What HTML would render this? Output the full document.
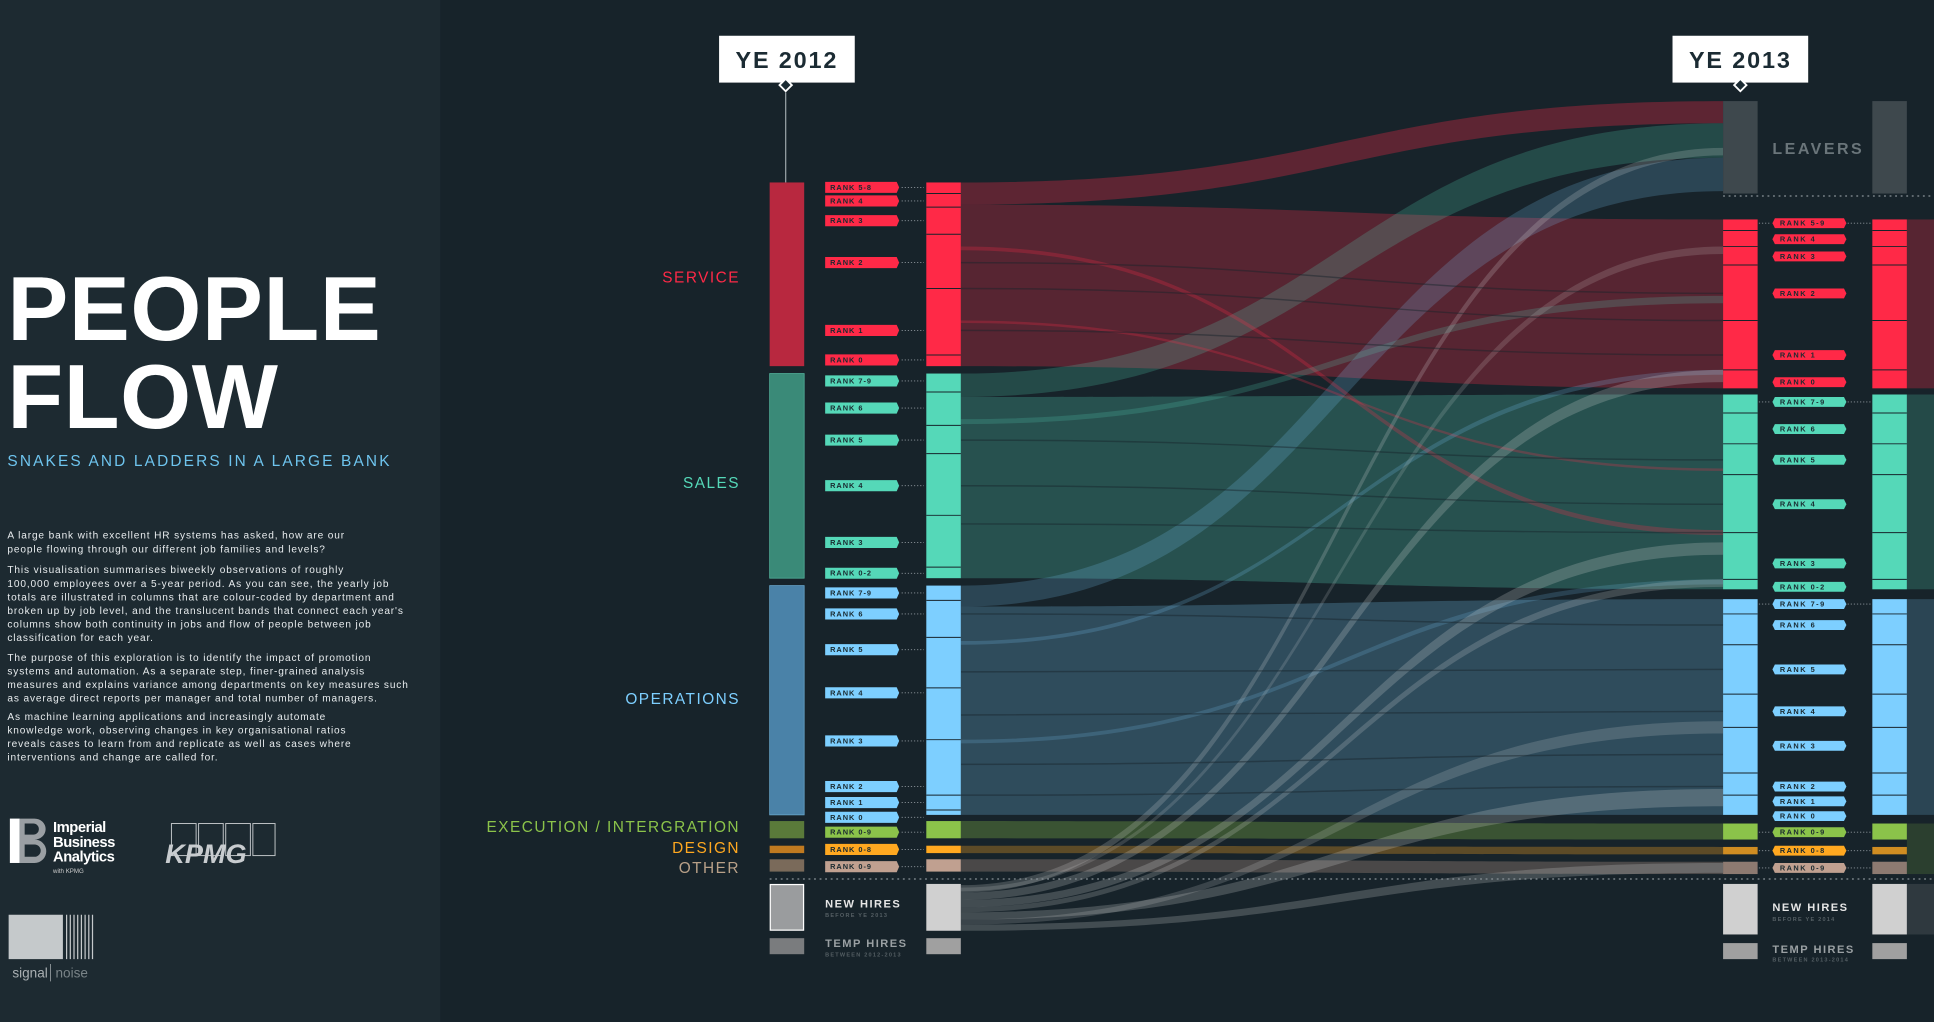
<!DOCTYPE html>
<html><head><meta charset="utf-8"><style>
html,body{margin:0;padding:0;background:#17232a;}
svg{display:block;}
text{font-family:"Liberation Sans","DejaVu Sans",sans-serif;}
</style></head><body>
<svg width="1934" height="1022" viewBox="0 0 1568 829" preserveAspectRatio="none" xmlns="http://www.w3.org/2000/svg">
<rect width="1568" height="829" fill="#17232a"/>
<rect width="357" height="829" fill="#1d2a31"/>

<!-- flows -->
<g>
<path d="M779 148 C1088 148 1088 82 1397 82 L1397 100 C1088 100 1088 166 779 166Z" fill="#ff2a48" opacity="0.3"/>
<path d="M779 166 C1088 166 1088 178 1397 178 L1397 315 C1088 315 1088 297 779 297Z" fill="#ff2a48" opacity="0.28"/>
<path d="M779 303 C1088 303 1088 100 1397 100 L1397 128 C1088 128 1088 322 779 322Z" fill="#55d8b8" opacity="0.22"/>
<path d="M779 322 C1088 322 1088 320 1397 320 L1397 478 C1088 478 1088 469 779 469Z" fill="#55d8b8" opacity="0.26"/>
<path d="M779 475 C1088 475 1088 128 1397 128 L1397 155 C1088 155 1088 492 779 492Z" fill="#7dcfff" opacity="0.2"/>
<path d="M779 492 C1088 492 1088 486 1397 486 L1397 661 C1088 661 1088 661 779 661Z" fill="#7dcfff" opacity="0.24"/>
<path d="M779 666 C1088 666 1088 668 1397 668 L1397 681 C1088 681 1088 680 779 680Z" fill="#8bc34a" opacity="0.3"/>
<path d="M779 686 C1088 686 1088 687 1397 687 L1397 693 C1088 693 1088 692 779 692Z" fill="#ffa820" opacity="0.3"/>
<path d="M779 697 C1088 697 1088 699 1397 699 L1397 709 C1088 709 1088 707 779 707Z" fill="#c0a090" opacity="0.3"/>
<path d="M779 200 C1088 200 1088 430 1397 430 L1397 434 C1088 434 1088 203 779 203Z" fill="#ff2a48" opacity="0.25"/>
<path d="M779 260 C1088 260 1088 380 1397 380 L1397 382 C1088 382 1088 262 779 262Z" fill="#ff2a48" opacity="0.25"/>
<path d="M779 340 C1088 340 1088 240 1397 240 L1397 246 C1088 246 1088 344 779 344Z" fill="#55d8b8" opacity="0.2"/>
<path d="M779 520 C1088 520 1088 300 1397 300 L1397 304 C1088 304 1088 523 779 523Z" fill="#7dcfff" opacity="0.2"/>
<path d="M779 600 C1088 600 1088 470 1397 470 L1397 474 C1088 474 1088 603 779 603Z" fill="#7dcfff" opacity="0.18"/>
<g fill="#e0e0e0">
<path d="M779 718 C1088 718 1088 120 1397 120 L1397 126 C1088 126 1088 724 779 724Z" opacity="0.2"/>
<path d="M779 724 C1088 724 1088 300 1397 300 L1397 310 C1088 310 1088 730 779 730Z" opacity="0.22"/>
<path d="M779 730 C1088 730 1088 440 1397 440 L1397 450 C1088 450 1088 736 779 736Z" opacity="0.22"/>
<path d="M779 736 C1088 736 1088 470 1397 470 L1397 476 C1088 476 1088 740 779 740Z" opacity="0.2"/>
<path d="M779 740 C1088 740 1088 640 1397 640 L1397 654 C1088 654 1088 746 779 746Z" opacity="0.22"/>
<path d="M779 746 C1088 746 1088 585 1397 585 L1397 595 C1088 595 1088 750 779 750Z" opacity="0.18"/>
<path d="M779 750 C1088 750 1088 700 1397 700 L1397 708 C1088 708 1088 755 779 755Z" opacity="0.22"/>
<path d="M779 720 C1088 720 1088 200 1397 200 L1397 206 C1088 206 1088 723 779 723Z" opacity="0.16"/>
</g>
<g stroke="#17232a" stroke-width="1.2" opacity="0.45" fill="none">
<path d="M779 213 C1088 213 1088 238 1397 238"/><path d="M779 234 C1088 234 1088 260 1397 260"/>
<path d="M779 268 C1088 268 1088 288 1397 288"/><path d="M779 357 C1088 357 1088 373 1397 373"/>
<path d="M779 394 C1088 394 1088 409 1397 409"/><path d="M779 425 C1088 425 1088 432 1397 432"/>
<path d="M779 498 C1088 498 1088 507 1397 507"/><path d="M779 545 C1088 545 1088 543 1397 543"/>
<path d="M779 580 C1088 580 1088 577 1397 577"/><path d="M779 620 C1088 620 1088 612 1397 612"/>
<path d="M779 645 C1088 645 1088 638 1397 638"/>
</g>
<rect x="1546" y="178" width="22" height="137" fill="#ff2a48" opacity="0.28"/>
<rect x="1546" y="320" width="22" height="158" fill="#55d8b8" opacity="0.22"/>
<rect x="1546" y="486" width="22" height="175" fill="#7dcfff" opacity="0.2"/>
<rect x="1546" y="668" width="22" height="41" fill="#8bc34a" opacity="0.18"/>
<rect x="1546" y="717" width="22" height="41" fill="#e0e0e0" opacity="0.12"/>
</g>

<line x1="624" y1="713" x2="1568" y2="713" stroke="#8a9399" stroke-width="1" stroke-dasharray="1.5 3"/>
<line x1="1397" y1="159" x2="1568" y2="159" stroke="#8a9399" stroke-width="1" stroke-dasharray="1.5 3"/>

<rect x="583" y="29" width="110" height="38" fill="#fff"/>
<text x="638" y="55" text-anchor="middle" font-size="19" font-weight="bold" fill="#1b2b33" letter-spacing="1.5">YE 2012</text>
<path d="M632 69 L637 64 L642 69 L637 74Z" fill="#1b2b33" stroke="#fff" stroke-width="1.5"/>
<line x1="637" y1="75" x2="637" y2="148" stroke="#9aa3a8" stroke-width="1"/>
<rect x="1356" y="29" width="110" height="38" fill="#fff"/>
<text x="1411" y="55" text-anchor="middle" font-size="19" font-weight="bold" fill="#1b2b33" letter-spacing="1.5">YE 2013</text>
<path d="M1406 69 L1411 64 L1416 69 L1411 74Z" fill="#1b2b33" stroke="#fff" stroke-width="1.5"/>

<rect x="624" y="148" width="28" height="149" fill="#b8283f"/>
<rect x="624" y="303" width="28" height="166" fill="#3a8a78" stroke="#55b8a0" stroke-width="0.6"/>
<rect x="624" y="475" width="28" height="186" fill="#4a82a8" stroke="#6aaad0" stroke-width="0.6"/>
<rect x="624" y="666" width="28" height="14" fill="#5a7a3a"/>
<rect x="624" y="686" width="28" height="6" fill="#c07a20"/>
<rect x="624" y="697" width="28" height="10" fill="#7a6a5a"/>
<rect x="624.5" y="717.5" width="27" height="37" fill="#9a9c9e" stroke="#fff" stroke-width="1"/>
<rect x="624" y="761" width="28" height="13" fill="#7a7c7e"/>

<rect x="751" y="148" width="28" height="149" fill="#ff2947"/>
<rect x="751" y="303" width="28" height="166" fill="#55d8b8"/>
<rect x="751" y="475" width="28" height="186" fill="#7dcfff"/>
<rect x="751" y="666" width="28" height="14" fill="#8bc34a"/>
<rect x="751" y="686" width="28" height="6" fill="#ffa820"/>
<rect x="751" y="697" width="28" height="10" fill="#c0a090"/>
<rect x="751" y="717" width="28" height="38" fill="#d0d0d0"/>
<rect x="751" y="761" width="28" height="13" fill="#a0a0a0"/>
<g stroke="#17232a" stroke-width="0.8">
<line x1="751" y1="157" x2="779" y2="157"/><line x1="751" y1="168" x2="779" y2="168"/><line x1="751" y1="190" x2="779" y2="190"/><line x1="751" y1="234" x2="779" y2="234"/><line x1="751" y1="288" x2="779" y2="288"/>
<line x1="751" y1="318" x2="779" y2="318"/><line x1="751" y1="345" x2="779" y2="345"/><line x1="751" y1="368" x2="779" y2="368"/><line x1="751" y1="418" x2="779" y2="418"/><line x1="751" y1="460" x2="779" y2="460"/>
<line x1="751" y1="487" x2="779" y2="487"/><line x1="751" y1="517" x2="779" y2="517"/><line x1="751" y1="558" x2="779" y2="558"/><line x1="751" y1="600" x2="779" y2="600"/><line x1="751" y1="645" x2="779" y2="645"/><line x1="751" y1="657" x2="779" y2="657"/>
</g>

<rect x="1397" y="82" width="28" height="75" fill="#3e484d"/>
<rect x="1518" y="82" width="28" height="75" fill="#3e484d"/>
<text x="1437" y="125" font-size="13" fill="#6a757a" letter-spacing="2" font-weight="bold">LEAVERS</text>
<g>
<rect x="1397" y="178" width="28" height="137" fill="#ff2947"/><rect x="1518" y="178" width="28" height="137" fill="#ff2947"/>
<rect x="1397" y="320" width="28" height="158" fill="#55d8b8"/><rect x="1518" y="320" width="28" height="158" fill="#55d8b8"/>
<rect x="1397" y="486" width="28" height="175" fill="#7dcfff"/><rect x="1518" y="486" width="28" height="175" fill="#7dcfff"/>
<rect x="1397" y="668" width="28" height="13" fill="#8bc34a"/><rect x="1518" y="668" width="28" height="13" fill="#8bc34a"/>
<rect x="1397" y="687" width="28" height="6" fill="#ffa820" opacity="0.8"/><rect x="1518" y="687" width="28" height="6" fill="#ffa820" opacity="0.8"/>
<rect x="1397" y="699" width="28" height="10" fill="#c0a090" opacity="0.7"/><rect x="1518" y="699" width="28" height="10" fill="#c0a090" opacity="0.7"/>
<rect x="1397" y="717" width="28" height="41" fill="#d0d0d0"/><rect x="1518" y="717" width="28" height="41" fill="#d0d0d0"/>
<rect x="1397" y="765" width="28" height="13" fill="#a0a0a0"/><rect x="1518" y="765" width="28" height="13" fill="#a0a0a0"/>
</g>
<g stroke="#17232a" stroke-width="0.8">
<line x1="1397" y1="187" x2="1425" y2="187"/><line x1="1518" y1="187" x2="1546" y2="187"/><line x1="1397" y1="200" x2="1425" y2="200"/><line x1="1397" y1="215" x2="1425" y2="215"/><line x1="1397" y1="260" x2="1425" y2="260"/><line x1="1397" y1="300" x2="1425" y2="300"/>
<line x1="1518" y1="200" x2="1546" y2="200"/><line x1="1518" y1="215" x2="1546" y2="215"/><line x1="1518" y1="260" x2="1546" y2="260"/><line x1="1518" y1="300" x2="1546" y2="300"/>
<line x1="1397" y1="335" x2="1425" y2="335"/><line x1="1397" y1="360" x2="1425" y2="360"/><line x1="1397" y1="385" x2="1425" y2="385"/><line x1="1397" y1="432" x2="1425" y2="432"/><line x1="1397" y1="470" x2="1425" y2="470"/>
<line x1="1518" y1="335" x2="1546" y2="335"/><line x1="1518" y1="360" x2="1546" y2="360"/><line x1="1518" y1="385" x2="1546" y2="385"/><line x1="1518" y1="432" x2="1546" y2="432"/><line x1="1518" y1="470" x2="1546" y2="470"/>
<line x1="1397" y1="498" x2="1425" y2="498"/><line x1="1397" y1="523" x2="1425" y2="523"/><line x1="1397" y1="563" x2="1425" y2="563"/><line x1="1397" y1="590" x2="1425" y2="590"/><line x1="1397" y1="627" x2="1425" y2="627"/><line x1="1397" y1="645" x2="1425" y2="645"/>
<line x1="1518" y1="498" x2="1546" y2="498"/><line x1="1518" y1="523" x2="1546" y2="523"/><line x1="1518" y1="563" x2="1546" y2="563"/><line x1="1518" y1="590" x2="1546" y2="590"/><line x1="1518" y1="627" x2="1546" y2="627"/><line x1="1518" y1="645" x2="1546" y2="645"/>
</g>

<g font-size="6" font-weight="bold" fill="#1a2a30" letter-spacing="0.8">
<g fill="#ff2947">
<path d="M669 147.5h58l2 4.5-2 4.5h-58z"/><path d="M669 158.5h58l2 4.5-2 4.5h-58z"/><path d="M669 174.5h58l2 4.5-2 4.5h-58z"/><path d="M669 208.5h58l2 4.5-2 4.5h-58z"/><path d="M669 263.5h58l2 4.5-2 4.5h-58z"/><path d="M669 287.5h58l2 4.5-2 4.5h-58z"/>
</g>
<g fill="#55d8b8">
<path d="M669 304.5h58l2 4.5-2 4.5h-58z"/><path d="M669 326.5h58l2 4.5-2 4.5h-58z"/><path d="M669 352.5h58l2 4.5-2 4.5h-58z"/><path d="M669 389.5h58l2 4.5-2 4.5h-58z"/><path d="M669 435.5h58l2 4.5-2 4.5h-58z"/><path d="M669 460.5h58l2 4.5-2 4.5h-58z"/>
</g>
<g fill="#7dcfff">
<path d="M669 476.5h58l2 4.5-2 4.5h-58z"/><path d="M669 493.5h58l2 4.5-2 4.5h-58z"/><path d="M669 522.5h58l2 4.5-2 4.5h-58z"/><path d="M669 557.5h58l2 4.5-2 4.5h-58z"/><path d="M669 596.5h58l2 4.5-2 4.5h-58z"/><path d="M669 633.5h58l2 4.5-2 4.5h-58z"/><path d="M669 646.5h58l2 4.5-2 4.5h-58z"/><path d="M669 658.5h58l2 4.5-2 4.5h-58z"/>
</g>
<path d="M669 670.5h58l2 4.5-2 4.5h-58z" fill="#8bc34a"/>
<path d="M669 684.5h58l2 4.5-2 4.5h-58z" fill="#ffa820"/>
<path d="M669 698.5h58l2 4.5-2 4.5h-58z" fill="#c0a090"/>
<text x="673" y="154">RANK 5-8</text><text x="673" y="165">RANK 4</text><text x="673" y="181">RANK 3</text><text x="673" y="215">RANK 2</text><text x="673" y="270">RANK 1</text><text x="673" y="294">RANK 0</text>
<text x="673" y="311">RANK 7-9</text><text x="673" y="333">RANK 6</text><text x="673" y="359">RANK 5</text><text x="673" y="396">RANK 4</text><text x="673" y="442">RANK 3</text><text x="673" y="467">RANK 0-2</text>
<text x="673" y="483">RANK 7-9</text><text x="673" y="500">RANK 6</text><text x="673" y="529">RANK 5</text><text x="673" y="564">RANK 4</text><text x="673" y="603">RANK 3</text><text x="673" y="640">RANK 2</text><text x="673" y="653">RANK 1</text><text x="673" y="665">RANK 0</text>
<text x="673" y="677">RANK 0-9</text><text x="673" y="691">RANK 0-8</text><text x="673" y="705">RANK 0-9</text>
</g>
<g stroke="#8a9399" stroke-width="0.7" stroke-dasharray="1 1.5">
<line x1="731" y1="152" x2="749" y2="152"/><line x1="731" y1="163" x2="749" y2="163"/><line x1="731" y1="179" x2="749" y2="179"/><line x1="731" y1="213" x2="749" y2="213"/><line x1="731" y1="268" x2="749" y2="268"/><line x1="731" y1="292" x2="749" y2="292"/>
<line x1="731" y1="309" x2="749" y2="309"/><line x1="731" y1="331" x2="749" y2="331"/><line x1="731" y1="357" x2="749" y2="357"/><line x1="731" y1="394" x2="749" y2="394"/><line x1="731" y1="440" x2="749" y2="440"/><line x1="731" y1="465" x2="749" y2="465"/>
<line x1="731" y1="481" x2="749" y2="481"/><line x1="731" y1="498" x2="749" y2="498"/><line x1="731" y1="527" x2="749" y2="527"/><line x1="731" y1="562" x2="749" y2="562"/><line x1="731" y1="601" x2="749" y2="601"/><line x1="731" y1="638" x2="749" y2="638"/><line x1="731" y1="651" x2="749" y2="651"/><line x1="731" y1="663" x2="749" y2="663"/>
<line x1="731" y1="675" x2="749" y2="675"/><line x1="731" y1="689" x2="749" y2="689"/><line x1="731" y1="703" x2="749" y2="703"/>
</g>

<g font-size="6" font-weight="bold" fill="#1a2a30" letter-spacing="1.2">
<g fill="#ff2947">
<path d="M1439 177h56l2 4-2 4h-56l-2-4z"/><path d="M1439 190h56l2 4-2 4h-56l-2-4z"/><path d="M1439 204h56l2 4-2 4h-56l-2-4z"/><path d="M1439 234h56l2 4-2 4h-56l-2-4z"/><path d="M1439 284h56l2 4-2 4h-56l-2-4z"/><path d="M1439 306h56l2 4-2 4h-56l-2-4z"/>
</g>
<g fill="#55d8b8">
<path d="M1439 322h56l2 4-2 4h-56l-2-4z"/><path d="M1439 344h56l2 4-2 4h-56l-2-4z"/><path d="M1439 369h56l2 4-2 4h-56l-2-4z"/><path d="M1439 405h56l2 4-2 4h-56l-2-4z"/><path d="M1439 453h56l2 4-2 4h-56l-2-4z"/><path d="M1439 472h56l2 4-2 4h-56l-2-4z"/>
</g>
<g fill="#7dcfff">
<path d="M1439 486h56l2 4-2 4h-56l-2-4z"/><path d="M1439 503h56l2 4-2 4h-56l-2-4z"/><path d="M1439 539h56l2 4-2 4h-56l-2-4z"/><path d="M1439 573h56l2 4-2 4h-56l-2-4z"/><path d="M1439 601h56l2 4-2 4h-56l-2-4z"/><path d="M1439 634h56l2 4-2 4h-56l-2-4z"/><path d="M1439 646h56l2 4-2 4h-56l-2-4z"/><path d="M1439 658h56l2 4-2 4h-56l-2-4z"/>
</g>
<path d="M1439 671h56l2 4-2 4h-56l-2-4z" fill="#8bc34a"/>
<path d="M1439 686h56l2 4-2 4h-56l-2-4z" fill="#ffa820"/>
<path d="M1439 700h56l2 4-2 4h-56l-2-4z" fill="#c0a090"/>
<text x="1443" y="183">RANK 5-9</text><text x="1443" y="196">RANK 4</text><text x="1443" y="210">RANK 3</text><text x="1443" y="240">RANK 2</text><text x="1443" y="290">RANK 1</text><text x="1443" y="312">RANK 0</text>
<text x="1443" y="328">RANK 7-9</text><text x="1443" y="350">RANK 6</text><text x="1443" y="375">RANK 5</text><text x="1443" y="411">RANK 4</text><text x="1443" y="459">RANK 3</text><text x="1443" y="478">RANK 0-2</text>
<text x="1443" y="492">RANK 7-9</text><text x="1443" y="509">RANK 6</text><text x="1443" y="545">RANK 5</text><text x="1443" y="579">RANK 4</text><text x="1443" y="607">RANK 3</text><text x="1443" y="640">RANK 2</text><text x="1443" y="652">RANK 1</text><text x="1443" y="664">RANK 0</text>
<text x="1443" y="677">RANK 0-9</text><text x="1443" y="692">RANK 0-8</text><text x="1443" y="706">RANK 0-9</text>
</g>
<g stroke="#8a9399" stroke-width="0.7" stroke-dasharray="1 1.5">
<line x1="1426" y1="181" x2="1436" y2="181"/><line x1="1498" y1="181" x2="1517" y2="181"/>
<line x1="1426" y1="326" x2="1436" y2="326"/><line x1="1498" y1="326" x2="1517" y2="326"/>
<line x1="1426" y1="490" x2="1436" y2="490"/><line x1="1498" y1="490" x2="1517" y2="490"/>
<line x1="1426" y1="675" x2="1436" y2="675"/><line x1="1498" y1="675" x2="1517" y2="675"/>
<line x1="1426" y1="690" x2="1436" y2="690"/><line x1="1498" y1="690" x2="1517" y2="690"/>
<line x1="1426" y1="704" x2="1436" y2="704"/><line x1="1498" y1="704" x2="1517" y2="704"/>
</g>

<g font-size="12.5" text-anchor="end" letter-spacing="1.2">
<text x="600" y="229" fill="#ff2947">SERVICE</text>
<text x="600" y="396" fill="#55d8b8">SALES</text>
<text x="600" y="571" fill="#7dcfff">OPERATIONS</text>
<text x="600" y="675" fill="#8bc34a">EXECUTION / INTERGRATION</text>
<text x="600" y="692" fill="#ffa820">DESIGN</text>
<text x="600" y="708" fill="#b8a088">OTHER</text>
</g>

<g font-weight="bold">
<text x="669" y="736" font-size="9" fill="#e6e6e6" letter-spacing="1.2">NEW HIRES</text>
<text x="669" y="744" font-size="4.5" fill="#555f64" letter-spacing="1">BEFORE YE 2013</text>
<text x="669" y="768" font-size="9" fill="#9aa0a3" letter-spacing="1.2">TEMP HIRES</text>
<text x="669" y="776" font-size="4.5" fill="#555f64" letter-spacing="1">BETWEEN 2012-2013</text>
<text x="1437" y="739" font-size="9" fill="#e6e6e6" letter-spacing="1.2">NEW HIRES</text>
<text x="1437" y="747" font-size="4.5" fill="#555f64" letter-spacing="1">BEFORE YE 2014</text>
<text x="1437" y="773" font-size="9" fill="#9aa0a3" letter-spacing="1.2">TEMP HIRES</text>
<text x="1437" y="780" font-size="4.5" fill="#555f64" letter-spacing="1">BETWEEN 2013-2014</text>
</g>

<text x="6" y="276" font-size="74" font-weight="bold" fill="#fff" letter-spacing="0.5">PEOPLE</text>
<text x="6" y="347" font-size="74" font-weight="bold" fill="#fff" letter-spacing="0.5">FLOW</text>
<text x="6" y="378" font-size="12.5" fill="#6ec4ee" letter-spacing="1.75">SNAKES AND LADDERS IN A LARGE BANK</text>
<g font-size="8.2" fill="#e8ecee" letter-spacing="0.7">
<text x="6" y="437">A large bank with excellent HR systems has asked, how are our</text>
<text x="6" y="448">people flowing through our different job families and levels?</text>
<text x="6" y="465">This visualisation summarises biweekly observations of roughly</text>
<text x="6" y="476">100,000 employees over a 5-year period. As you can see, the yearly job</text>
<text x="6" y="487">totals are illustrated in columns that are colour-coded by department and</text>
<text x="6" y="498">broken up by job level, and the translucent bands that connect each year's</text>
<text x="6" y="509">columns show both continuity in jobs and flow of people between job</text>
<text x="6" y="520">classification for each year.</text>
<text x="6" y="536">The purpose of this exploration is to identify the impact of promotion</text>
<text x="6" y="547">systems and automation. As a separate step, finer-grained analysis</text>
<text x="6" y="558">measures and explains variance among departments on key measures such</text>
<text x="6" y="569">as average direct reports per manager and total number of managers.</text>
<text x="6" y="584">As machine learning applications and increasingly automate</text>
<text x="6" y="595">knowledge work, observing changes in key organisational ratios</text>
<text x="6" y="606">reveals cases to learn from and replicate as well as cases where</text>
<text x="6" y="617">interventions and change are called for.</text>
</g>

<rect x="8" y="664" width="8" height="36" fill="#fff"/>
<path d="M16 664 h12 a9 8.5 0 0 1 0 17 a9.5 9.5 0 0 1 0 19 h-12z" fill="#9a9fa3"/>
<path d="M20 668 h7 a4.5 4.5 0 0 1 0 9 h-7z M20 685 h8 a5 5 0 0 1 0 10 h-8z" fill="#1d2a31"/>
<g font-size="12" font-weight="bold" fill="#fff" letter-spacing="-0.4">
<text x="43" y="675">Imperial</text><text x="43" y="687">Business</text><text x="43" y="699">Analytics</text>
</g>
<text x="43" y="708" font-size="5" fill="#ccc">with KPMG</text>
<g fill="none" stroke="#bfc3c6" stroke-width="0.8">
<rect x="139" y="668" width="20" height="26"/><rect x="161" y="668" width="20" height="26"/><rect x="183" y="668" width="20" height="26"/><rect x="205" y="668" width="18" height="26"/>
</g>
<text x="134" y="700" font-size="22" font-weight="bold" font-style="italic" fill="#c8cccf">KPMG</text>
<rect x="7" y="742" width="44" height="36" fill="#c5c9cb"/>
<g stroke="#c5c9cb" stroke-width="1">
<line x1="54" y1="742" x2="54" y2="778"/><line x1="57" y1="742" x2="57" y2="778"/><line x1="60" y1="742" x2="60" y2="778"/><line x1="63" y1="742" x2="63" y2="778"/><line x1="66" y1="742" x2="66" y2="778"/><line x1="69" y1="742" x2="69" y2="778"/><line x1="72" y1="742" x2="72" y2="778"/><line x1="75" y1="742" x2="75" y2="778"/>
</g>
<text x="10" y="793" font-size="11" fill="#aab0b3">signal</text>
<line x1="41" y1="782" x2="41" y2="796" stroke="#aab0b3" stroke-width="0.6"/>
<text x="45" y="793" font-size="11" fill="#7a8488">noise</text>
</svg>
</body></html>
